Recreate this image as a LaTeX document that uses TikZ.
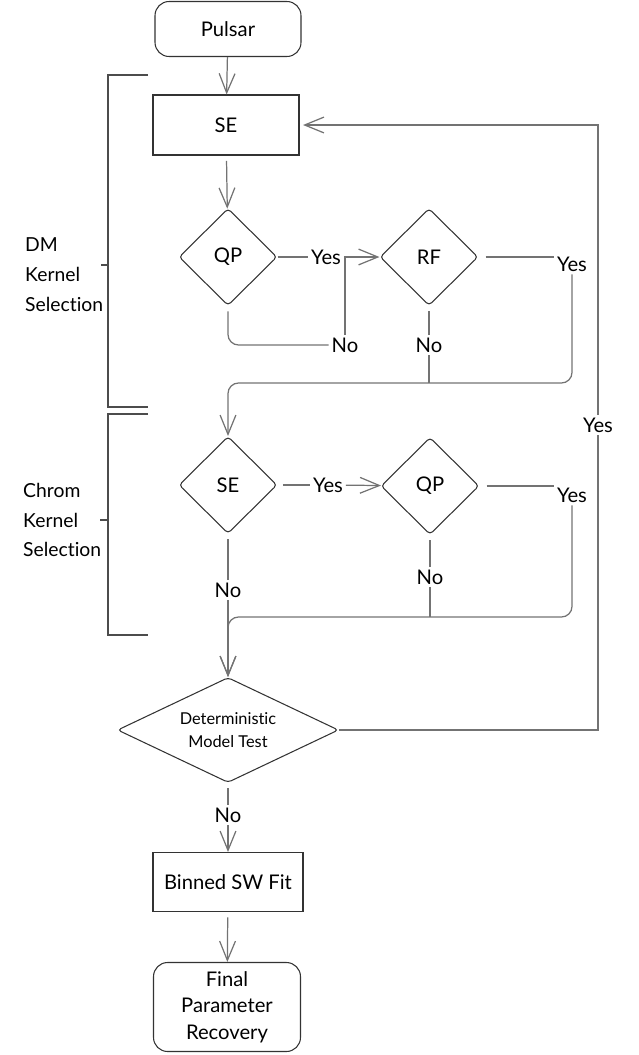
\documentclass[tikz,border=0pt]{standalone}
\usepackage{fontspec}
\setmainfont{Lato}[Ligatures=NoCommon]
\usetikzlibrary{arrows.meta,shapes.geometric}

\begin{document}
\begin{tikzpicture}[x=0.02cm,y=-0.02cm,
  font=\fontsize{11.5}{15}\selectfont,
  box/.style={rectangle,draw=black!80,line width=0.6pt,minimum width=2.92cm,minimum height=1.2cm},
  term/.style={box,rounded corners=8pt},
  dec/.style={diamond,draw=black!80,line width=0.6pt,rounded corners=2pt,inner sep=0pt,minimum width=1.96cm,minimum height=1.94cm},
  lab/.style={inner sep=1.5pt},
  link/.style={draw=black!55,line width=0.7pt},
  arr/.style={link,-{Straight Barb[length=11pt,width=9pt]}},
  brace/.style={draw=black!70,line width=0.6pt}]
\useasboundingbox (0,0) rectangle (639,1055);
% kernel selection brackets
\draw [brace] (148,75) -- (108,75) -- (108,407) -- (148,407);
\draw [brace] (101,265) -- (108,265);
\draw [brace] (148,414) -- (108,414) -- (108,635) -- (148,635);
\draw [brace] (100,520) -- (108,520);
\node (dmlab)    at (19,275) [anchor=west,align=left,font=\fontsize{11}{17}\selectfont] {DM\\Kernel\\Selection};
\node (chromlab) at (17,520) [anchor=west,align=left,font=\fontsize{11}{17}\selectfont] {Chrom\\Kernel\\Selection};
% main chain
\node (pulsar) at (228,29)  [term,minimum height=1.1cm] {Pulsar};
\node (se1)    at (226,125) [box] {SE};
\node (qp1)    at (228,257) [dec] {QP};
\node (rf1)    at (429,257) [dec] {RF};
\node (se2)    at (228,485) [dec] {SE};
\node (qp2)    at (430,486) [dec] {QP};
\node (det)    at (228,730) [dec,aspect=2.1,minimum width=4.42cm,minimum height=2.1cm,align=center,font=\fontsize{9.3}{12.8}\selectfont] {Deterministic\\Model Test};
\node (fit)    at (228,882) [box,minimum width=3.0cm,minimum height=1.18cm] {Binned SW Fit};
\node (final)  at (227,1007) [term,minimum width=2.94cm,minimum height=1.78cm,align=center] {Final\\Parameter\\Recovery};
% branch labels
\node (yes1)    at (326,257) [lab] {Yes};
\node (no1)     at (345,345) [lab] {No};
\node (yes2)    at (572,264) [lab] {Yes};
\node (no2)     at (429,345) [lab] {No};
\node (yesloop) at (598,425) [lab] {Yes};
\node (yes3)    at (328,485) [lab] {Yes};
\node (no3)     at (430,577) [lab] {No};
\node (yes4)    at (572,495) [lab] {Yes};
\node (no4)     at (228,590) [lab] {No};
\node (no5)     at (228,815) [lab] {No};
\coordinate (j1) at (345,257);
\coordinate (m1) at (228,383);
\coordinate (m2) at (228,617);
% DM kernel
\draw [arr] (pulsar) -- (se1);
\draw [arr,shorten <=3pt] (se1) -- (qp1);
\draw [link] (qp1) -- (yes1);
\draw [arr] (yes1) -- (rf1);
\draw [link,rounded corners=6pt,shorten <=3pt] (qp1.south) |- (no1);
\draw [link] (no1) -- (j1);
\draw [link,shorten <=4pt] (rf1.east) -- (rf1 -| yes2.west);
\draw [link,shorten <=3pt] (rf1) -- (no2);
\draw [link] (no2) -- (no2 |- m1);
\draw [arr,rounded corners=6pt] (yes2) |- (m1) -- (se2);
% chrom kernel
\draw [link,shorten <=3pt] (se2) -- (yes3);
\draw [arr] (yes3) -- (qp2);
\draw [link,shorten <=4pt] (qp2.east) -- (qp2 -| yes4.west);
\draw [link,shorten <=3pt] (qp2) -- (no3);
\draw [link] (no3) -- (no3 |- m2);
\draw [arr,rounded corners=6pt] (yes4) |- (m2) -- (det);
\draw [link,shorten <=3pt] (se2) -- (no4);
\draw [arr] (no4) -- (det);
% deterministic test
\draw [link] (det.east) -| (yesloop);
\draw [arr,shorten >=2pt] (yesloop) |- (se1.east);
\draw [link,shorten <=3pt] (det) -- (no5);
\draw [arr] (no5) -- (fit);
\draw [arr,shorten <=3pt] (fit) -- (final);
\end{tikzpicture}
\end{document}
